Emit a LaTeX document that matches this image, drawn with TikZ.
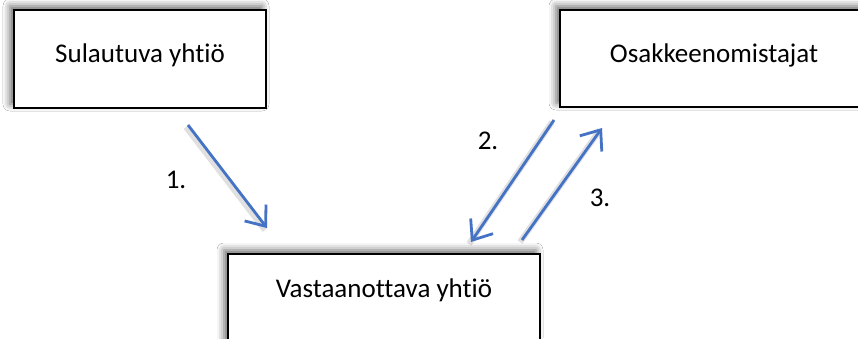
\documentclass[tikz,border=0pt]{standalone}
\usepackage{fontspec}
\setmainfont{Carlito}[Ligatures={NoCommon}]
\usetikzlibrary{arrows.meta,shadows.blur}
\definecolor{arrowblue}{HTML}{4472C4}
\tikzset{
  box/.style={draw=black, line width=2bp, fill=white, rectangle, inner sep=0pt,
    font=\fontsize{27bp}{31bp}\selectfont,
    blur shadow={shadow xshift=-4bp, shadow yshift=4bp, shadow blur radius=7bp, shadow opacity=60}},
  flow/.style={draw=arrowblue, line width=2.8bp,
    -{Straight Barb[length=17bp,width=27bp,line width=2.8bp]},
    preaction={draw=black, opacity=0.12, line width=6bp, -, transform canvas={shift={(-2bp,-2bp)}}}},
  lbl/.style={font=\fontsize{27bp}{31bp}\selectfont, inner sep=0pt}
}
\begin{document}
\begin{tikzpicture}[x=1bp,y=-1bp]
\useasboundingbox (0,0) rectangle (858,338);
\clip (0,0) rectangle (858,338);
\fill[white] (0,0) rectangle (858,338);
\node[box, minimum width=252bp, minimum height=98bp, text height=20bp, text depth=14bp] (sul) at (140,59) {Sulautuva yhtiö};
\node[box, minimum width=308bp, minimum height=97bp, text height=20bp, text depth=13bp] (osa) at (714,58.5) {Osakkeenomistajat};
\node[box, minimum width=312bp, minimum height=98bp, text height=20bp, text depth=32bp] (vas) at (384,303) {Vastaanottava yhtiö};
\coordinate (a1s) at (188,125);
\coordinate (a1e) at (267,228);
\coordinate (a2s) at (554,120);
\coordinate (a2e) at (471,242);
\coordinate (a3s) at (522,240);
\coordinate (a3e) at (602,128);
\draw[flow] (a1s) -- (a1e);
\draw[flow] (a2s) -- (a2e);
\draw[flow] (a3s) -- (a3e);
\node[lbl] (l1) at (176,180) {1.};
\node[lbl] (l2) at (488,141) {2.};
\node[lbl] (l3) at (600,198) {3.};
\end{tikzpicture}
\end{document}
